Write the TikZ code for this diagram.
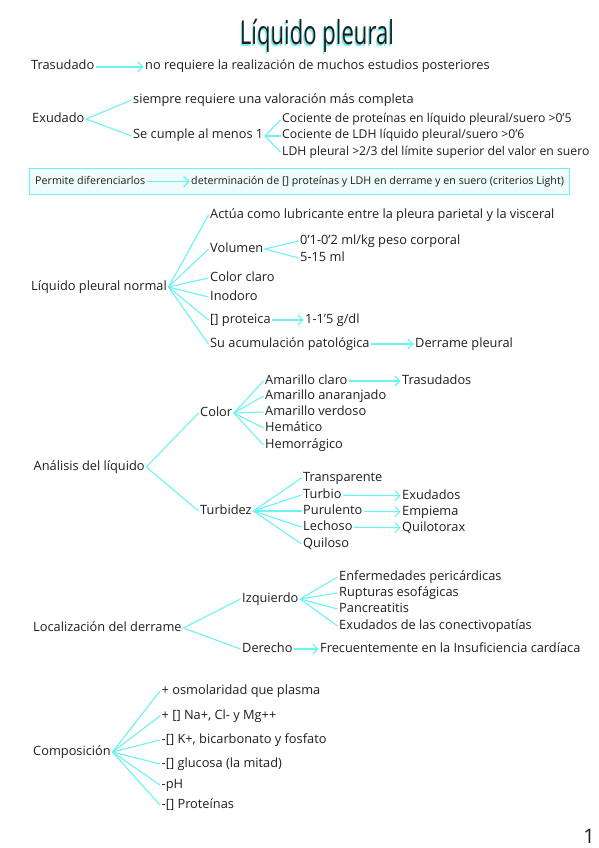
\documentclass[tikz,border=0pt]{standalone}
\usepackage{fontspec}
\setmainfont{Open Sans}
\newfontfamily\titlefont[FakeStretch=0.67]{Open Sans}
\usetikzlibrary{arrows.meta, positioning, fit, backgrounds}
\definecolor{cLine}{HTML}{6CF2F2}
\definecolor{cBoxFill}{HTML}{EEFCFC}
\definecolor{cInk}{HTML}{1E1E1E}
\tikzset{
  item/.style={anchor=west, inner sep=1.5pt, text=cInk,
    font=\fontsize{12.8}{14}\selectfont, text height=8.5pt, text depth=2.5pt},
  longitem/.style={item, font=\fontsize{12.2}{14}\selectfont},
  boxtext/.style={item, font=\fontsize{10.7}{12}\selectfont},
  notebox/.style={draw=cLine, fill=cBoxFill, line width=1.3pt,
    inner xsep=4pt, inner ysep=6pt},
  branch/.style={draw=cLine, line width=1.1pt},
  flow/.style={-{Straight Barb[length=5pt, width=10pt]}, draw=cLine, line width=1.1pt},
  titletext/.style={anchor=base, inner sep=0pt, text=cInk,
    font=\titlefont\fontsize{33}{36}\selectfont},
  titleshadow/.style={titletext, text=cLine},
  pagenum/.style={anchor=base, inner sep=0pt, text=cInk, font=\fontsize{20}{22}\selectfont},
}

\begin{document}
\begin{tikzpicture}[x=1pt, y=-1pt]
  \useasboundingbox (0,0) rectangle (599,848);

  % ----------------------------------------------------------------
  % Title
  % ----------------------------------------------------------------
  \node[titleshadow] (titleshade) at (315.8,46.3) {Líquido pleural};
  \node[titletext] (title) at (317,45) {Líquido pleural};

  % ----------------------------------------------------------------
  % Trasudado / Exudado
  % ----------------------------------------------------------------
  \node[item] (tras) at (29.5,67) {Trasudado};
  \node[item] (trasR) at (143.5,67) {no requiere la realización de muchos estudios posteriores};
  \draw[flow] (tras) -- (trasR);

  \node[item] (exu) at (30.5,119) {Exudado};
  \node[item] (exuA) at (131.5,100) {siempre requiere una valoración más completa};
  \node[item] (exuB) at (131.5,136) {Se cumple al menos 1};
  \node[longitem] (exuB1) at (280.5,120) {Cociente de proteínas en líquido pleural/suero >0'5};
  \node[longitem] (exuB2) at (280.5,136) {Cociente de LDH líquido pleural/suero >0'6};
  \node[longitem] (exuB3) at (280.5,152) {LDH pleural >2/3 del límite superior del valor en suero};
  \draw[branch] (exuA.west) -- (exu.east) -- (exuB.west);
  \draw[branch] (exuB1.west) -- (exuB.east) -- (exuB3.west);
  \draw[branch] (exuB.east) -- (exuB2.west);

  % ----------------------------------------------------------------
  % Highlighted note
  % ----------------------------------------------------------------
  \node[boxtext] (perm) at (33.5,181.5) {Permite diferenciarlos};
  \node[boxtext] (permR) at (189.5,181.5)
    {determinación de [] proteínas y LDH en derrame y en suero (criterios Light)};
  \begin{scope}[on background layer]
    \node[notebox, fit=(perm)(permR)] (permbox) {};
  \end{scope}
  \draw[flow] (perm) -- (permR);

  % ----------------------------------------------------------------
  % Liquido pleural normal
  % ----------------------------------------------------------------
  \node[item] (lpn) at (29.5,287) {Líquido pleural normal};
  \node[item] (lpnA) at (208.5,215) {Actúa como lubricante entre la pleura parietal y la visceral};
  \node[item] (lpnVol) at (208.5,249) {Volumen};
  \node[item] (lpnVol1) at (298.5,241) {0'1-0'2 ml/kg peso corporal};
  \node[item] (lpnVol2) at (298.5,258) {5-15 ml};
  \node[item] (lpnCol) at (208.5,278) {Color claro};
  \node[item] (lpnOlor) at (208.5,297) {Inodoro};
  \node[item] (lpnProt) at (208.5,320) {[] proteica};
  \node[item] (lpnProtR) at (303.5,320) {1-1'5 g/dl};
  \node[item] (lpnAcu) at (208.5,344) {Su acumulación patológica};
  \node[item] (lpnAcuR) at (413.5,344) {Derrame pleural};
  \draw[branch] (lpnA.west) -- (lpn.east) -- (lpnAcu.west);
  \draw[branch] (lpn.east) -- (lpnVol.west);
  \draw[branch] (lpn.east) -- (lpnCol.west);
  \draw[branch] (lpn.east) -- (lpnOlor.west);
  \draw[branch] (lpn.east) -- (lpnProt.west);
  \draw[branch] (lpnVol1.west) -- (lpnVol.east) -- (lpnVol2.west);
  \draw[flow] (lpnProt) -- (lpnProtR);
  \draw[flow] (lpnAcu) -- (lpnAcuR);

  % ----------------------------------------------------------------
  % Analisis del liquido
  % ----------------------------------------------------------------
  \node[item] (ana) at (32,467) {Análisis del líquido};
  \node[item] (anaCol) at (198.5,413) {Color};
  \node[item] (anaCol1) at (263.5,381) {Amarillo claro};
  \node[item] (anaCol2) at (263.5,396) {Amarillo anaranjado};
  \node[item] (anaCol3) at (263.5,412) {Amarillo verdoso};
  \node[item] (anaCol4) at (263.5,428) {Hemático};
  \node[item] (anaCol5) at (263.5,445) {Hemorrágico};
  \node[item] (anaCol1R) at (400.5,381) {Trasudados};
  \draw[branch] (anaCol1.west) -- (anaCol.east) -- (anaCol5.west);
  \draw[branch] (anaCol.east) -- (anaCol2.west);
  \draw[branch] (anaCol.east) -- (anaCol3.west);
  \draw[branch] (anaCol.east) -- (anaCol4.west);
  \draw[flow] (anaCol1) -- (anaCol1R);

  \node[item] (anaTur) at (198.5,511) {Turbidez};
  \node[item] (anaTur1) at (301.5,478) {Transparente};
  \node[item] (anaTur2) at (301.5,495) {Turbio};
  \node[item] (anaTur3) at (301.5,511) {Purulento};
  \node[item] (anaTur4) at (301.5,527) {Lechoso};
  \node[item] (anaTur5) at (301.5,544) {Quiloso};
  \node[item] (anaTur2R) at (400.5,496) {Exudados};
  \node[item] (anaTur3R) at (400.5,512) {Empiema};
  \node[item] (anaTur4R) at (400.5,528) {Quilotorax};
  \draw[branch] (anaCol.west) -- (ana.east) -- (anaTur.west);
  \draw[branch] (anaTur1.west) -- (anaTur.east) -- (anaTur5.west);
  \draw[branch] (anaTur.east) -- (anaTur2.west);
  \draw[branch] (anaTur.east) -- (anaTur3.west);
  \draw[branch] (anaTur.east) -- (anaTur4.west);
  \draw[flow] (anaTur2) -- (anaTur2R);
  \draw[flow] (anaTur3) -- (anaTur3R);
  \draw[flow] (anaTur4) -- (anaTur4R);

  % ----------------------------------------------------------------
  % Localizacion del derrame
  % ----------------------------------------------------------------
  \node[item] (loc) at (31.5,628) {Localización del derrame};
  \node[item] (locIz) at (240.5,599) {Izquierdo};
  \node[item] (locIz1) at (337.5,577) {Enfermedades pericárdicas};
  \node[item] (locIz2) at (337.5,593) {Rupturas esofágicas};
  \node[item] (locIz3) at (337.5,609) {Pancreatitis};
  \node[item] (locIz4) at (337.5,626) {Exudados de las conectivopatías};
  \node[item] (locDer) at (240.5,649) {Derecho};
  \node[item] (locDerR) at (318.5,649) {Frecuentemente en la Insuficiencia cardíaca};
  \draw[branch] (locIz.west) -- (loc.east) -- (locDer.west);
  \draw[branch] (locIz1.west) -- (locIz.east) -- (locIz4.west);
  \draw[branch] (locIz.east) -- (locIz2.west);
  \draw[branch] (locIz.east) -- (locIz3.west);
  \draw[flow] (locDer) -- (locDerR);

  % ----------------------------------------------------------------
  % Composicion
  % ----------------------------------------------------------------
  \node[item] (comp) at (31.5,752) {Composición};
  \node[item] (comp1) at (160,691) {+ osmolaridad que plasma};
  \node[item] (comp2) at (160,716) {+ [] Na+, Cl- y Mg++};
  \node[item] (comp3) at (160,740) {-[] K+, bicarbonato y fosfato};
  \node[item] (comp4) at (160,764) {-[] glucosa (la mitad)};
  \node[item] (comp5) at (160,785) {-pH};
  \node[item] (comp6) at (160,805) {-[] Proteínas};
  \draw[branch] (comp1.west) -- (comp.east) -- (comp6.west);
  \draw[branch] (comp.east) -- (comp2.west);
  \draw[branch] (comp.east) -- (comp3.west);
  \draw[branch] (comp.east) -- (comp4.west);
  \draw[branch] (comp.east) -- (comp5.west);

  % page number
  \node[pagenum] (page) at (589,843) {1};

\end{tikzpicture}
\end{document}
